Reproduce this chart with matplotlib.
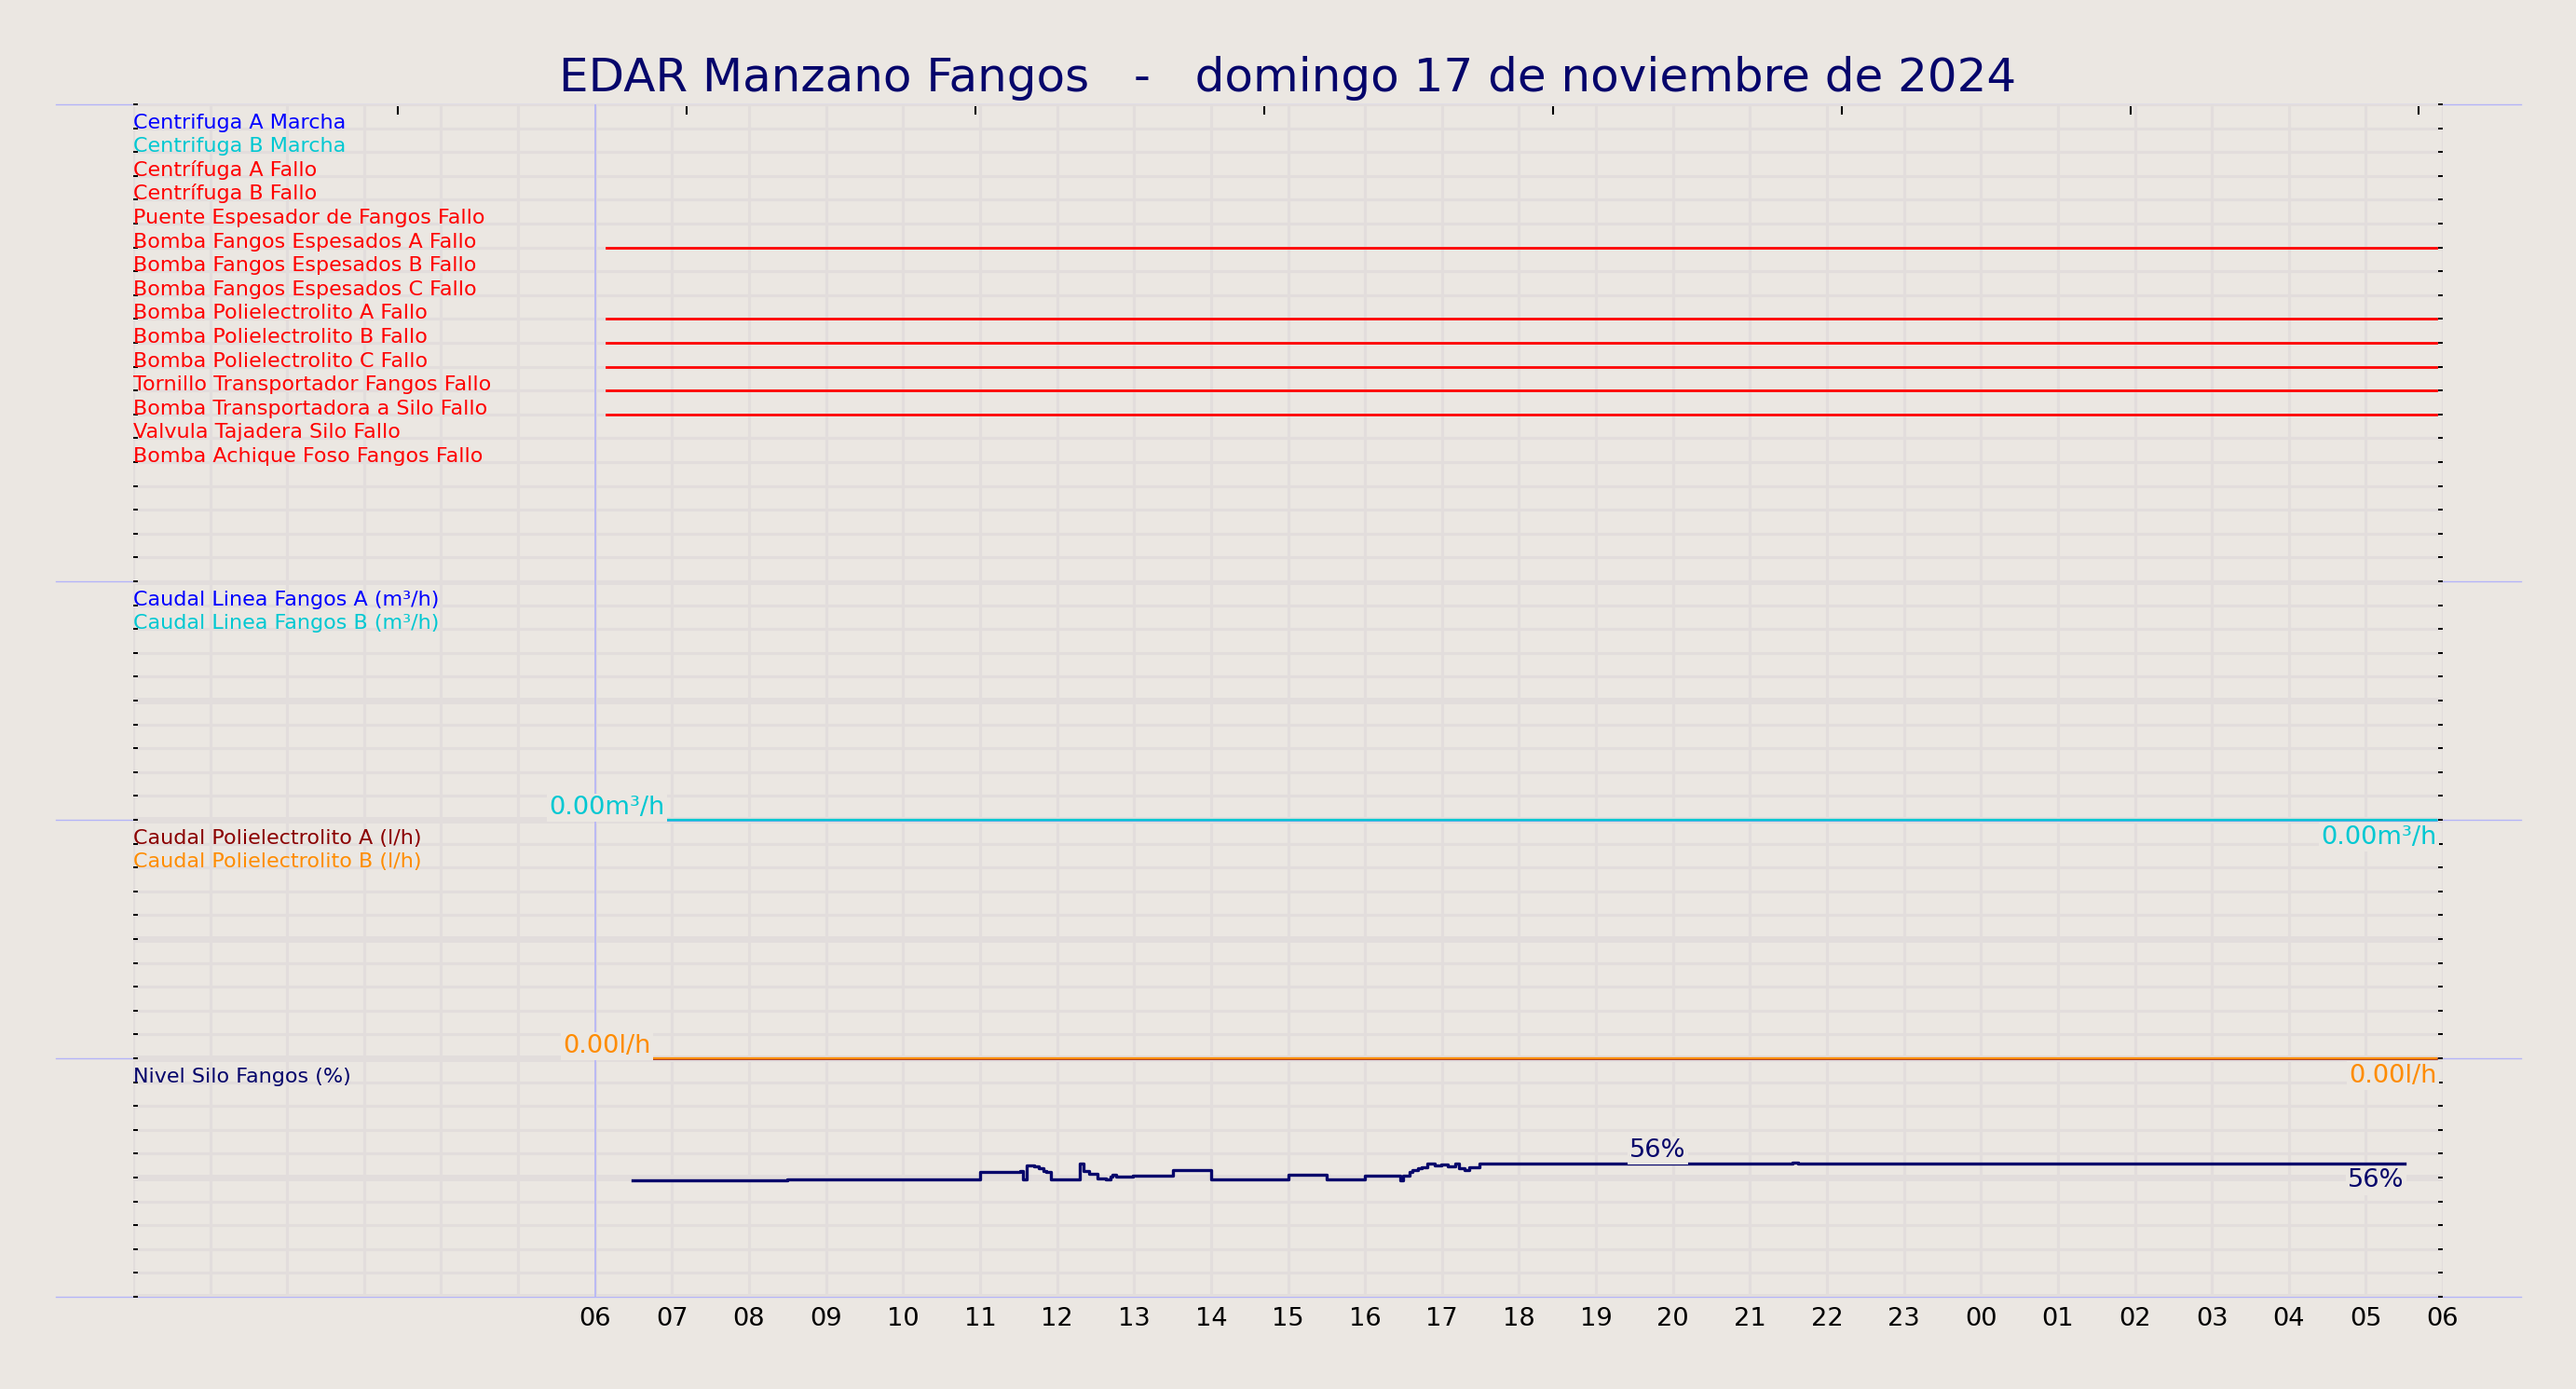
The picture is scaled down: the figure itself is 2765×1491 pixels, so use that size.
import matplotlib

matplotlib.use("Agg")
import matplotlib.pyplot as plt
import numpy as np
from matplotlib.lines import Line2D

BG = "#ebe7e2"
GRID = "#e2dddc"
SEP = "#b4b4f8"
NAVY = "#05056b"
BLUE = "#0000ff"
CYAN = "#00c8d2"
RED = "#ff0000"
DARKRED = "#8b0000"
ORANGE = "#ff8c00"

TITLE = "EDAR Manzano Fangos   -   domingo 17 de noviembre de 2024"

# hours counted from 00:00 of the day, axis covers 00 -> 06 of next day
HOUR_TICKS = list(range(0, 31))
HOUR_LABELS = ["" if h < 6 else f"{h % 24:02d}" for h in HOUR_TICKS]
TOP_TICKS = [3.44, 7.19, 10.94, 14.69, 18.44, 22.19, 25.94, 29.69]

DIGITAL_LABELS = [
    "Centrifuga A Marcha",
    "Centrifuga B Marcha",
    "Centrífuga A Fallo",
    "Centrífuga B Fallo",
    "Puente Espesador de Fangos Fallo",
    "Bomba Fangos Espesados A Fallo",
    "Bomba Fangos Espesados B Fallo",
    "Bomba Fangos Espesados C Fallo",
    "Bomba Polielectrolito A Fallo",
    "Bomba Polielectrolito B Fallo",
    "Bomba Polielectrolito C Fallo",
    "Tornillo Transportador Fangos Fallo",
    "Bomba Transportadora a Silo Fallo",
    "Valvula Tajadera Silo Fallo",
    "Bomba Achique Foso Fangos Fallo",
]
DIGITAL_COLORS = [BLUE, CYAN] + [RED] * 13
DIGITAL_HAS_DATA = [0, 0, 0, 0, 0, 1, 0, 0, 1, 1, 1, 1, 1, 0, 0]
digital_t = [6.15, 29.92]
digital_state = [0, 0]

flow_t = [6.15, 29.92]
caudal_a = [0.0, 0.0]
caudal_b = [0.0, 0.0]
poli_a = [0.0, 0.0]
poli_b = [0.0, 0.0]

silo_t = [6.49, 8.50, 11.00, 11.52, 11.56, 11.60, 11.70, 11.76, 11.82, 11.86, 11.92,
          12.29, 12.34, 12.42, 12.52, 12.63, 12.70, 12.72, 12.77, 12.99, 13.51, 14.00,
          15.01, 15.50, 16.00, 16.46, 16.50, 16.58, 16.62, 16.69, 16.74, 16.81, 16.91,
          16.99, 17.08, 17.17, 17.22, 17.29, 17.35, 17.49, 21.55, 21.62, 29.50]
silo_pct = [48.7, 49.2, 52.2, 52.9, 49.2, 55.2, 54.6, 53.8, 52.9, 52.3, 49.2,
            55.7, 52.6, 51.6, 49.6, 49.1, 50.3, 51.2, 50.2, 50.8, 53.1, 49.2,
            51.2, 49.2, 50.9, 48.9, 50.9, 52.2, 53.2, 53.9, 54.4, 55.7, 55.1,
            55.5, 54.6, 55.9, 53.8, 53.2, 54.2, 55.9, 56.3, 55.9, 55.9]
silo_label_t = 19.80

FS_LABEL = 16.0
FS_VALUE = 19.6

fig = plt.figure(figsize=(27.65, 14.91), dpi=100, facecolor=BG)
left, right = 0.0517, 0.9483
edges = [0.92488, 0.58149, 0.40979, 0.23810, 0.06640]
rows = [20, 10, 10, 10]
ymax = [20, 10, 10, 100]

axes = []
for i in range(4):
    ax = fig.add_axes([left, edges[i + 1], right - left, edges[i] - edges[i + 1]])
    ax.set_facecolor("none")
    ax.set_zorder(10 - i)
    ax.set_xlim(0, 30)
    ax.set_ylim(0, ymax[i])
    unit = ymax[i] / rows[i]
    ax.set_yticks(np.arange(0, ymax[i] + unit / 2, 5 * unit))
    ax.set_yticks(np.arange(0, ymax[i] + unit / 2, unit), minor=True)
    ax.set_xticks(HOUR_TICKS)
    ax.set_xticklabels(HOUR_LABELS)
    ax.set_axisbelow(True)
    ax.grid(True, axis="x", which="major", color=GRID, linewidth=2.2)
    ax.grid(True, axis="y", which="major", color=GRID, linewidth=5.0)
    ax.grid(True, axis="y", which="minor", color=GRID, linewidth=2.2)
    for s in ax.spines.values():
        s.set_visible(False)
    ax.tick_params(axis="y", which="both", left=True, right=True, direction="in",
                   length=3.8, width=1.4, color="black", labelleft=False)
    ax.tick_params(axis="x", which="both", length=0, pad=8, labelsize=FS_VALUE,
                   labelbottom=(i == 3), colors="black")
    ax.axvline(6, color=SEP, linewidth=1.2, zorder=1.5)
    axes.append(ax)

ax1, ax2, ax3, ax4 = axes

# top ticks
axt = ax1.twiny()
axt.set_xlim(0, 30)
axt.set_xticks(TOP_TICKS)
axt.tick_params(axis="x", top=True, bottom=False, labeltop=False, labelbottom=False,
                direction="in", length=8, width=1.5, color="black")
axt.set_yticks([])
for s in axt.spines.values():
    s.set_visible(False)
axt.set_zorder(0)

# separators
for y in edges:
    fig.add_artist(Line2D([0.0217, 0.9787], [y, y], color=SEP, linewidth=1.0, zorder=0.5))

# panel 1: digital signals
for k, (name, col, has) in enumerate(zip(DIGITAL_LABELS, DIGITAL_COLORS, DIGITAL_HAS_DATA)):
    yrow = 20 - (k + 1)
    ax1.text(0, yrow, name, color=col, fontsize=FS_LABEL, ha="left", va="baseline")
    if has:
        ax1.plot(digital_t, [yrow + s for s in digital_state], color=col, linewidth=2.0)

box = dict(boxstyle="square,pad=0.08", facecolor=BG, edgecolor="none")


def fmt(value, unit):
    return f"{value:.0f}%" if unit == "%" else f"{value:.2f}{unit}"


def value_labels(ax, t, v, unit, color, left_t=None):
    first_t = t[0] if left_t is None else left_t
    first_v = v[0] if left_t is None else float(np.interp(left_t, t, v))
    ax.text(first_t, first_v, fmt(first_v, unit), color=color, fontsize=FS_VALUE,
            ha="center", va="bottom", bbox=box, zorder=5)
    ax.annotate(fmt(v[-1], unit), (t[-1], v[-1]), xytext=(0, -4), textcoords="offset points",
                color=color, fontsize=FS_VALUE, ha="right", va="top", bbox=box, zorder=5,
                annotation_clip=False)


# panel 2: caudal linea fangos
ax2.text(0, 9, "Caudal Linea Fangos A (m³/h)", color=BLUE, fontsize=FS_LABEL, ha="left", va="baseline")
ax2.text(0, 8, "Caudal Linea Fangos B (m³/h)", color=CYAN, fontsize=FS_LABEL, ha="left", va="baseline")
ax2.plot(flow_t, caudal_a, color="#3399ee", linewidth=1.8, clip_on=False)
ax2.plot(flow_t, caudal_b, color=CYAN, linewidth=1.6, clip_on=False)
value_labels(ax2, flow_t, caudal_b, "m³/h", CYAN)

# panel 3: caudal polielectrolito
ax3.text(0, 9, "Caudal Polielectrolito A (l/h)", color=DARKRED, fontsize=FS_LABEL, ha="left", va="baseline")
ax3.text(0, 8, "Caudal Polielectrolito B (l/h)", color=ORANGE, fontsize=FS_LABEL, ha="left", va="baseline")
ax3.plot(flow_t, poli_a, color=DARKRED, linewidth=1.8, clip_on=False)
ax3.plot(flow_t, poli_b, color=ORANGE, linewidth=1.6, clip_on=False)
value_labels(ax3, flow_t, poli_b, "l/h", ORANGE)

# panel 4: nivel silo
ax4.text(0, 90, "Nivel Silo Fangos (%)", color=NAVY, fontsize=FS_LABEL, ha="left", va="baseline")
ax4.step(silo_t, silo_pct, where="post", color=NAVY, linewidth=2.4)
value_labels(ax4, silo_t, silo_pct, "%", NAVY, left_t=silo_label_t)

fig.text(0.5, 0.9343, TITLE, ha="center", va="baseline", fontsize=36, color=NAVY)

fig.savefig("out.png", dpi=100, facecolor=BG)
